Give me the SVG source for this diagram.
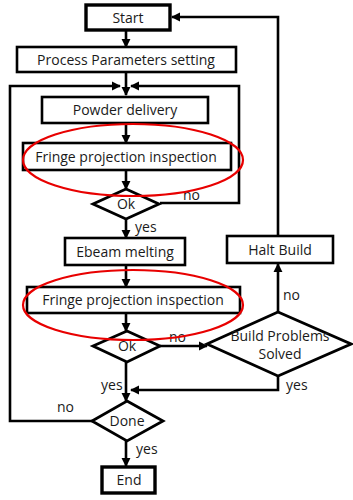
<svg xmlns="http://www.w3.org/2000/svg" width="353" height="500" viewBox="0 0 353 500">
<defs>
<marker id="ah" viewBox="0 0 10 10" refX="9" refY="5" markerWidth="3.6" markerHeight="3.6" orient="auto" markerUnits="strokeWidth">
<path d="M0,0 L10,5 L0,10 z" fill="#000"/>
</marker>
<style>
.box{fill:#fff;stroke:#000;stroke-width:2.6}
.term{fill:#fff;stroke:#000;stroke-width:3.4}
.dia{fill:#fff;stroke:#000;stroke-width:2.8}
.ln{fill:none;stroke:#000;stroke-width:2.6}
.ar{fill:none;stroke:#000;stroke-width:2.6;marker-end:url(#ah)}
.t{font-family:"Open Sans","Noto Sans","Liberation Sans",sans-serif;font-size:14px;fill:#1a1a1a;text-anchor:middle}
.l{font-family:"Open Sans","Noto Sans","Liberation Sans",sans-serif;font-size:14px;fill:#1a1a1a}
.ell{fill:none;stroke:#e80000;stroke-width:2.2}
</style>
</defs>
<rect width="353" height="500" fill="#fff"/>
<g id="connectors">
<line class="ar" x1="126" y1="30" x2="126" y2="47"/>
<line class="ar" x1="126" y1="72" x2="126" y2="95"/>
<polyline class="ar" points="93,421 10,421 10,86 120,86"/>
<polyline class="ar" points="160,203 239,203 239,86 131,86"/>
<line class="ar" x1="126" y1="123" x2="126" y2="143"/>
<line class="ar" x1="126" y1="170" x2="126" y2="189"/>
<line class="ar" x1="126" y1="219" x2="126" y2="238"/>
<line class="ar" x1="126" y1="265" x2="126" y2="287"/>
<line class="ar" x1="126" y1="313" x2="126" y2="331"/>
<line class="ar" x1="160" y1="346" x2="207" y2="346"/>
<line class="ar" x1="278" y1="312" x2="278" y2="264"/>
<polyline class="ar" points="278,236 278,17 172,17"/>
<line class="ar" x1="126" y1="362" x2="126" y2="401"/>
<polyline class="ar" points="278,376 278,390 131,390"/>
<line class="ar" x1="126" y1="441" x2="126" y2="466"/>
</g>
<g id="start"><rect class="term" x="86" y="5" width="84" height="25"/><text class="t" x="128" y="23">Start</text></g>
<g id="params"><rect class="box" x="17" y="47" width="219" height="25"/><text class="t" x="126" y="65">Process Parameters setting</text></g>
<g id="powder"><rect class="box" x="42" y="97" width="166" height="26"/><text class="t" x="125" y="115">Powder delivery</text></g>
<g id="fringe1"><rect class="box" x="23" y="143" width="208" height="27"/><text class="t" x="126" y="162">Fringe projection inspection</text></g>
<g id="ok1"><polygon class="dia" points="126,189 159,204 126,219 93,204"/><text class="t" x="126" y="209">Ok</text></g>
<g id="ebeam"><rect class="box" x="65" y="238" width="120" height="27"/><text class="t" x="125" y="257">Ebeam melting</text></g>
<g id="halt"><rect class="box" x="227" y="236" width="106" height="27"/><text class="t" x="280" y="255">Halt Build</text></g>
<g id="fringe2"><rect class="box" x="27" y="287" width="213" height="26"/><text class="t" x="133" y="305">Fringe projection inspection</text></g>
<g id="ok2"><polygon class="dia" points="127,331 160,346 127,362 93,346"/><text class="t" x="127" y="351">Ok</text></g>
<g id="problems"><polygon class="dia" points="278,312 351,344 278,376 207,344"/><text class="t" x="280" y="341">Build Problems</text><text class="t" x="280" y="359">Solved</text></g>
<g id="done"><polygon class="dia" points="127,401 163,421 127,441 92,421"/><text class="t" x="127" y="426">Done</text></g>
<g id="end"><rect class="term" x="102" y="467" width="53" height="26"/><text class="t" x="129" y="485">End</text></g>
<g id="labels">
<text class="l" x="183" y="200">no</text>
<text class="l" x="135" y="232">yes</text>
<text class="l" x="169" y="342">no</text>
<text class="l" x="283" y="300">no</text>
<text class="l" x="101" y="390">yes</text>
<text class="l" x="286" y="390">yes</text>
<text class="l" x="57" y="412">no</text>
<text class="l" x="136" y="454">yes</text>
</g>
<g id="highlights">
<ellipse class="ell" cx="133" cy="160" rx="110" ry="36"/>
<ellipse class="ell" cx="133" cy="305" rx="110" ry="35"/>
</g>
</svg>
